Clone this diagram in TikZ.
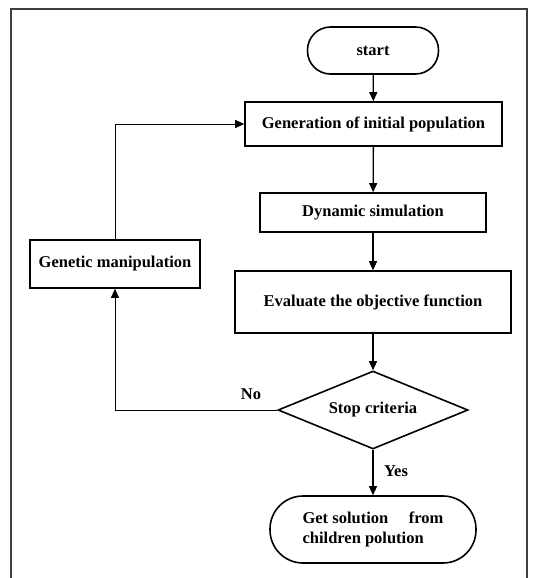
\documentclass[tikz,border=0pt]{standalone}
\usepackage{fontspec}
\setmainfont{Liberation Serif}
\usetikzlibrary{shapes.geometric,arrows.meta}

\begin{document}
\begin{tikzpicture}[x=1pt,y=-1pt,
  box/.style={draw,line width=1.6pt,font=\bfseries\fontsize{16.5}{20}\selectfont,inner sep=0pt},
  term/.style={box,rounded corners=23pt},
  decision/.style={box,diamond,aspect=2.4},
  flow/.style={line width=1.3pt,-{Triangle[length=9pt,width=8pt]}},
  back/.style={line width=0.9pt,-{Triangle[length=9pt,width=8pt]}},
  lab/.style={font=\bfseries\fontsize{16.5}{20}\selectfont}]
\useasboundingbox (0,0) rectangle (536,578);
%\draw[step=10pt,gray,very thin] (0,0) grid (536,578); %background grid
\draw[line width=1.5pt,black!75] (11,578) -- (11,9) -- (527,9) -- (527,578);

\node[term,minimum width=131pt,minimum height=47pt] (start) at (373,50.5) {start};
\node[box,minimum width=257pt,minimum height=44pt] (gen) at (373.5,124) {Generation of initial population};
\node[box,minimum width=226pt,minimum height=39pt] (dyn) at (373,212.5) {Dynamic simulation};
\node[box,minimum width=276pt,minimum height=62pt] (eval) at (373,302) {Evaluate the objective function};
\node[decision,minimum width=190pt,minimum height=78pt] (stop) at (373,410) {Stop criteria};
\node[term,rounded corners=33pt,minimum width=206pt,minimum height=67pt,align=left] (sol) at (373,529.5) {Get solution\quad\ from\\children polution};
\node[box,minimum width=170pt,minimum height=48pt] (gm) at (115,264) {Genetic manipulation};

\draw[flow] (start) -- (gen);
\draw[flow] (gen) -- (dyn);
\draw[flow] (dyn) -- (eval);
\draw[flow] (eval) -- (stop);
\draw[flow] (stop) -- (sol);
\draw[back] (stop.west) -- (stop.west -| gm.south) -- (gm.south);
\draw[back] (gm.north) |- (gen.west);

\node[lab] (no) at (251,394) {No};
\node[lab] (yes) at (396,471) {Yes};
\end{tikzpicture}
\end{document}
